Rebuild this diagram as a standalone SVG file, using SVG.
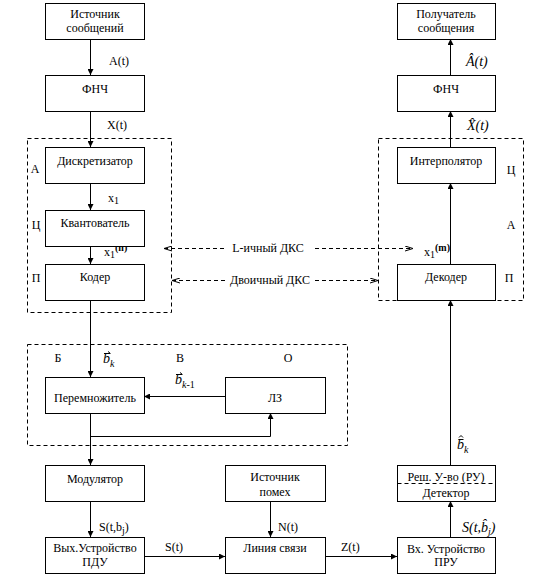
<svg xmlns="http://www.w3.org/2000/svg" width="556" height="584" viewBox="0 0 556 584" font-family="'Liberation Serif', 'DejaVu Serif', 'Times New Roman', serif" font-size="12">
<style>
text{font-family:'Liberation Serif','DejaVu Serif','Times New Roman',serif;font-size:12px;fill:#000}
.c{text-anchor:middle}
.i{font-style:italic}
.box{fill:#fff;stroke:#000;stroke-width:1}
.ln{fill:none;stroke:#000;stroke-width:1}
.dash{fill:none;stroke:#000;stroke-width:1;stroke-dasharray:4 3}
.big{font-size:14px}
.sub{font-size:10px}
</style>
<defs>
<marker id="ar" viewBox="0 0 6 6" refX="6" refY="3" markerWidth="6" markerHeight="6" markerUnits="userSpaceOnUse" orient="auto">
<path d="M0,0 L6,3 L0,6 z" fill="#000"/>
</marker>
<marker id="ao" viewBox="0 0 8 6" refX="8" refY="3" markerWidth="8" markerHeight="6" markerUnits="userSpaceOnUse" orient="auto">
<path d="M0,0.5 L8,3 L0,5.5" fill="none" stroke="#000" stroke-width="1"/>
</marker>
</defs>
<rect width="556" height="584" fill="#fff"/>

<g id="groups">
<rect x="27.5" y="138.5" width="144" height="174" class="dash"/>
<rect x="378.5" y="138.5" width="145" height="162" class="dash"/>
<rect x="27.5" y="344.5" width="320" height="101" class="dash"/>
<text x="35" y="173" class="c">А</text>
<text x="36" y="229" class="c">Ц</text>
<text x="36" y="282" class="c">П</text>
<text x="511" y="174" class="c">Ц</text>
<text x="511" y="229" class="c">А</text>
<text x="509" y="282" class="c">П</text>
<text x="58" y="362" class="c">Б</text>
<text x="180" y="362" class="c">В</text>
<text x="288" y="362" class="c">О</text>
</g>

<g id="connectors">
<path class="ln" d="M90.5,39 V75" marker-end="url(#ar)"/>
<path class="ln" d="M90.5,111 V147" marker-end="url(#ar)"/>
<path class="ln" d="M90.5,183 V210" marker-end="url(#ar)"/>
<path class="ln" d="M90.5,246 V264" marker-end="url(#ar)"/>
<path class="ln" d="M90.5,300 V377" marker-end="url(#ar)"/>
<path class="ln" d="M90.5,413 V465" marker-end="url(#ar)"/>
<path class="ln" d="M90.5,436.5 H270.5 V413" marker-end="url(#ar)"/>
<path class="ln" d="M225,396.5 H144" marker-end="url(#ar)"/>
<path class="ln" d="M90.5,501 V537" marker-end="url(#ar)"/>
<path class="ln" d="M270.5,501 V537" marker-end="url(#ar)"/>
<path class="ln" d="M144,556.5 H225" marker-end="url(#ar)"/>
<path class="ln" d="M325,556.5 H397" marker-end="url(#ar)"/>
<path class="ln" d="M450.5,537 V501" marker-end="url(#ar)"/>
<path class="ln" d="M450.5,465 V300" marker-end="url(#ar)"/>
<path class="ln" d="M450.5,264 V183" marker-end="url(#ar)"/>
<path class="ln" d="M450.5,147 V111" marker-end="url(#ar)"/>
<path class="ln" d="M450.5,75 V39" marker-end="url(#ar)"/>
<path class="dash" d="M224,248.5 H164" marker-end="url(#ao)"/>
<path class="dash" d="M315,248.5 H413" marker-end="url(#ao)"/>
<text x="268" y="252" class="c">L-ичный ДКС</text>
<path class="dash" d="M225,280.5 H172" marker-end="url(#ao)"/>
<path class="dash" d="M315,280.5 H378" marker-end="url(#ao)"/>
<text x="270" y="284" class="c">Двоичный ДКС</text>
<text x="109" y="65">A(t)</text>
<text x="107" y="129">X(t)</text>
<text x="466" y="66" class="i big">Â(t)</text>
<text x="467" y="130" class="i big">X̂(t)</text>
<text x="108" y="202">x<tspan class="sub" dy="2">1</tspan></text>
<text x="104" y="256">x<tspan class="sub" dy="2">1</tspan><tspan class="sub" dy="-7" font-weight="bold">(n)</tspan></text>
<text x="424" y="256">x<tspan class="sub" dy="2">1</tspan><tspan class="sub" dy="-7" font-weight="bold">(m)</tspan></text>
<text x="103" y="363" class="i big">b<tspan class="sub" dy="4">k</tspan></text>
<path class="ln" d="M104,353.5 H110 M108,351.5 L110.5,353.5" stroke-width="0.8"/>
<text x="175" y="384" class="i big">b<tspan class="sub" dy="4">k</tspan><tspan class="sub" dy="0" font-style="normal">-1</tspan></text>
<path class="ln" d="M176,374.5 H182 M180,372.5 L182.5,374.5" stroke-width="0.8"/>
<text x="457" y="449" class="i big">b<tspan class="sub" dy="4">k</tspan></text>
<path class="ln" d="M459,437.5 L461,435.5 L463,437.5 M458.5,439.5 H463.5" stroke-width="0.8"/>
<text x="99" y="531">S(t,b<tspan class="sub" dy="3">j</tspan><tspan dy="-3">)</tspan></text>
<text x="165" y="551">S(t)</text>
<text x="278" y="531">N(t)</text>
<text x="341" y="551">Z(t)</text>
<text x="462" y="532" class="i big">S(t,b̂<tspan class="sub" dy="3">j</tspan><tspan dy="-3">)</tspan></text>
</g>

<g id="n-source"><rect x="45.5" y="3.5" width="99" height="36" class="box"/><text x="95" y="18" class="c">Источник</text><text x="95" y="32" class="c">сообщений</text></g>
<g id="n-lpf1"><rect x="45.5" y="75.5" width="99" height="36" class="box"/><text x="95" y="93" class="c">ФНЧ</text></g>
<g id="n-sampler"><rect x="45.5" y="147.5" width="99" height="36" class="box"/><text x="95" y="165" class="c">Дискретизатор</text></g>
<g id="n-quant"><rect x="45.5" y="210.5" width="99" height="36" class="box"/><text x="95" y="227" class="c">Квантователь</text></g>
<g id="n-coder"><rect x="45.5" y="264.5" width="99" height="36" class="box"/><text x="95" y="281" class="c">Кодер</text></g>
<g id="n-mult"><rect x="45.5" y="377.5" width="99" height="36" class="box"/><text x="95" y="402" class="c">Перемножитель</text></g>
<g id="n-delay"><rect x="225.5" y="377.5" width="100" height="36" class="box"/><text x="275" y="402" class="c">ЛЗ</text></g>
<g id="n-mod"><rect x="45.5" y="465.5" width="99" height="36" class="box"/><text x="95" y="483" class="c">Модулятор</text></g>
<g id="n-out"><rect x="45.5" y="537.5" width="99" height="36" class="box"/><text x="95" y="552" class="c">Вых.Устройство</text><text x="95" y="566" class="c">ПДУ</text></g>
<g id="n-noise"><rect x="225.5" y="465.5" width="100" height="36" class="box"/><text x="275" y="481" class="c">Источник</text><text x="275" y="496" class="c">помех</text></g>
<g id="n-line"><rect x="225.5" y="537.5" width="100" height="36" class="box"/><text x="275" y="552" class="c">Линия связи</text></g>
<g id="n-in"><rect x="397.5" y="537.5" width="98" height="36" class="box"/><text x="446" y="553" class="c">Вх. Устройство</text><text x="446" y="566" class="c">ПРУ</text></g>
<g id="n-det"><rect x="397.5" y="465.5" width="98" height="36" class="box"/><path class="dash" d="M397.5,483.5 H495.5" stroke-dasharray="3 2"/><text x="446" y="481" class="c">Реш. У-во (РУ)</text><text x="446" y="497" class="c">Детектор</text></g>
<g id="n-decoder"><rect x="397.5" y="264.5" width="98" height="36" class="box"/><text x="446" y="281" class="c">Декодер</text></g>
<g id="n-interp"><rect x="397.5" y="147.5" width="98" height="36" class="box"/><text x="446" y="165" class="c">Интерполятор</text></g>
<g id="n-lpf2"><rect x="397.5" y="75.5" width="98" height="36" class="box"/><text x="446" y="93" class="c">ФНЧ</text></g>
<g id="n-sink"><rect x="397.5" y="3.5" width="98" height="36" class="box"/><text x="446" y="18" class="c">Получатель</text><text x="446" y="32" class="c">сообщения</text></g>
</svg>
